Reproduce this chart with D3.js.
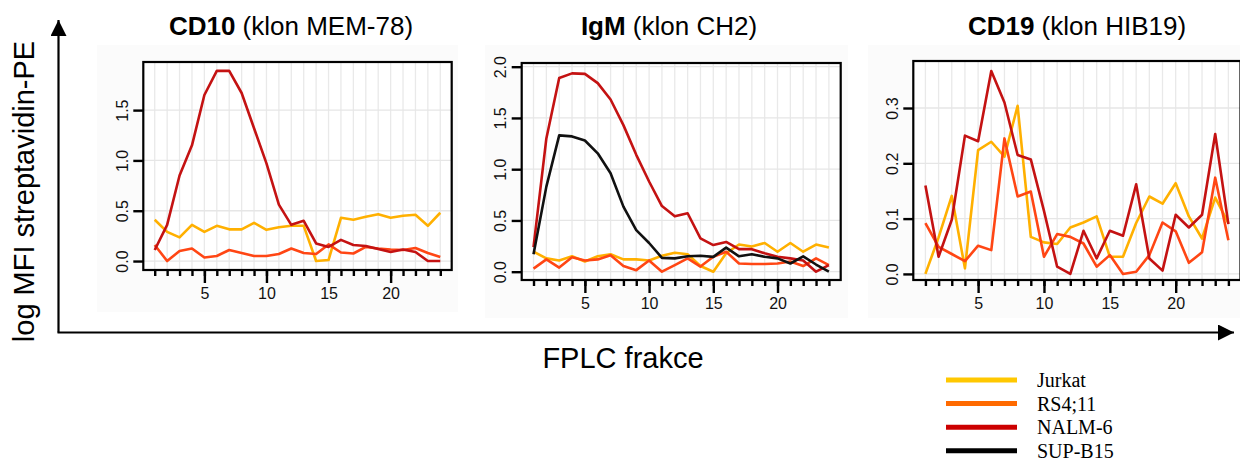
<!DOCTYPE html>
<html><head><meta charset="utf-8">
<script src="https://cdn.jsdelivr.net/npm/d3@7"></script>
<style>body{margin:0;background:#fff}svg{display:block}</style>
</head><body><svg id="c" width="1240" height="461"></svg>
<script>
// ---------- DATA ----------
const fractions = d3.range(1, 25);
const seriesNames = ["Jurkat", "RS4;11", "NALM-6", "SUP-B15"];
const xTickLabels = [5, 10, 15, 20];

const cd10_Jurkat = [0.41,0.29,0.235,0.36,0.29,0.35,0.315,0.315,0.38,0.31,0.335,0.35,0.35,0.0,0.01,0.43,0.41,0.44,0.465,0.43,0.45,0.46,0.35,0.48];
const cd10_RS411  = [0.16,0.0,0.10,0.125,0.035,0.05,0.11,0.08,0.05,0.05,0.07,0.125,0.08,0.07,0.165,0.085,0.075,0.14,0.125,0.115,0.11,0.13,0.08,0.04];
const cd10_NALM6  = [0.11,0.36,0.85,1.15,1.65,1.89,1.89,1.67,1.32,0.97,0.56,0.36,0.40,0.175,0.14,0.21,0.16,0.15,0.12,0.09,0.115,0.09,0.0,0.0];
const cd10_yTicks = [0.0, 0.5, 1.0, 1.5];

const igm_Jurkat = [0.195,0.13,0.11,0.15,0.10,0.15,0.17,0.12,0.12,0.11,0.155,0.185,0.17,0.055,0.0,0.18,0.265,0.245,0.28,0.195,0.28,0.195,0.265,0.235];
const igm_RS411  = [0.03,0.12,0.04,0.14,0.11,0.12,0.16,0.055,0.015,0.11,0.0,0.065,0.13,0.05,0.145,0.195,0.08,0.075,0.075,0.08,0.10,0.055,0.13,0.065];
const igm_NALM6  = [0.24,1.30,1.89,1.935,1.93,1.84,1.68,1.43,1.14,0.88,0.64,0.54,0.57,0.325,0.26,0.29,0.22,0.22,0.18,0.145,0.13,0.11,0.0,0.065];
const igm_SUPB15 = [0.17,0.83,1.33,1.32,1.28,1.155,0.96,0.635,0.405,0.28,0.135,0.13,0.15,0.155,0.145,0.235,0.15,0.17,0.145,0.13,0.08,0.15,0.07,0.0];
const igm_yTicks = [0.0, 0.5, 1.0, 1.5, 2.0];

const cd19_Jurkat = [0.0,0.066,0.141,0.01,0.224,0.239,0.212,0.304,0.067,0.057,0.054,0.084,0.093,0.104,0.031,0.031,0.092,0.14,0.127,0.164,0.104,0.064,0.138,0.092];
const cd19_RS411  = [0.092,0.049,0.036,0.023,0.051,0.043,0.245,0.14,0.149,0.031,0.072,0.067,0.055,0.013,0.034,0.0,0.004,0.034,0.093,0.077,0.020,0.039,0.174,0.061];
const cd19_NALM6  = [0.16,0.031,0.098,0.25,0.24,0.367,0.31,0.215,0.207,0.114,0.013,0.0,0.078,0.028,0.078,0.069,0.162,0.028,0.006,0.107,0.084,0.107,0.253,0.09];
const cd19_yTicks = [0.0, 0.1, 0.2, 0.3];

const titlesBold = ["CD10", "IgM", "CD19"];
const titlesRest = [" (klon MEM-78)", " (klon CH2)", " (klon HIB19)"];
const yAxisTitle = "log MFI streptavidin-PE";
const xAxisTitle = "FPLC frakce";

// ---------- STYLE / LAYOUT ----------
const lineColors = {"Jurkat":"#ffb000","RS4;11":"#ff4614","NALM-6":"#c41212","SUP-B15":"#111111"};
const legendColors = {"Jurkat":"#ffc800","RS4;11":"#ff6a00","NALM-6":"#cc0000","SUP-B15":"#000000"};

const panels = [
  {box:[143.3,62,451.7,270], yDom:[-0.089,1.978], bg:[97,45,458,312], titleX:291,
   yTicks:cd10_yTicks, series:[["Jurkat",cd10_Jurkat],["RS4;11",cd10_RS411],["NALM-6",cd10_NALM6]]},
  {box:[521.7,63,840.7,280], yDom:[-0.081,2.036], bg:[485,45,848,318], titleX:669,
   yTicks:igm_yTicks, series:[["Jurkat",igm_Jurkat],["RS4;11",igm_RS411],["NALM-6",igm_NALM6],["SUP-B15",igm_SUPB15]]},
  {box:[913.3,61,1240.5,280], yDom:[-0.011,0.385], bg:[868,45,1240,318], titleX:1077,
   yTicks:cd19_yTicks, series:[["Jurkat",cd19_Jurkat],["RS4;11",cd19_RS411],["NALM-6",cd19_NALM6]]}
];
const titles = titlesBold.map((b,i)=>({bold:b, rest:titlesRest[i]}));

const svg = d3.select("#c");
const font = "Arial, 'Liberation Sans', sans-serif";

panels.forEach((p, pi) => {
  const [x0,y0,x1,y1] = p.box;
  const g = svg.append("g");
  g.append("rect").attr("x",p.bg[0]).attr("y",p.bg[1]).attr("width",p.bg[2]-p.bg[0]).attr("height",p.bg[3]-p.bg[1]).attr("fill","#fbfbfb");
  g.append("rect").attr("x",x0).attr("y",y0).attr("width",x1-x0).attr("height",y1-y0).attr("fill","#fff");
  const x = d3.scaleLinear().domain([0.08,24.92]).range([x0,x1]);
  const y = d3.scaleLinear().domain(p.yDom).range([y1,y0]);
  // grid
  g.selectAll(".gv").data(fractions).join("line")
    .attr("x1",d=>x(d)).attr("x2",d=>x(d)).attr("y1",y0).attr("y2",y1)
    .attr("stroke","#e9e9e9").attr("stroke-width",1.3);
  g.selectAll(".gh").data(p.yTicks).join("line")
    .attr("x1",x0).attr("x2",x1).attr("y1",d=>y(d)).attr("y2",d=>y(d))
    .attr("stroke","#e6e6e6").attr("stroke-width",1.3);
  // lines
  const line = d3.line().x((d,i)=>x(fractions[i])).y(d=>y(d));
  p.series.forEach(([name, vals]) => {
    g.append("path").datum(vals).attr("d",line).attr("fill","none")
      .attr("stroke",lineColors[name]).attr("stroke-width",2.6).attr("stroke-linejoin","round");
  });
  // frame
  g.append("rect").attr("x",x0).attr("y",y0).attr("width",x1-x0).attr("height",y1-y0)
    .attr("fill","none").attr("stroke","#000").attr("stroke-width",2.2);
  // x axis ticks (minor every fraction, major labelled)
  const xa = g.append("g").attr("transform",`translate(0,${y1})`);
  xa.call(d3.axisBottom(x).tickValues(fractions).tickSize(6).tickFormat(""));
  xa.select(".domain").remove();
  xa.selectAll("line").attr("stroke","#000").attr("stroke-width",2.4);
  const xb = g.append("g").attr("transform",`translate(0,${y1})`);
  xb.call(d3.axisBottom(x).tickValues(xTickLabels).tickSize(13).tickPadding(5).tickFormat(d3.format("d")));
  xb.select(".domain").remove();
  xb.selectAll("line").attr("stroke","#000").attr("stroke-width",2.4);
  xb.selectAll("text").style("font-family",font).style("font-size","16px").attr("fill","#111");
  // y axis
  const ya = g.append("g").attr("transform",`translate(${x0},0)`);
  ya.call(d3.axisLeft(y).tickValues(p.yTicks).tickSize(10).tickFormat(d3.format(".1f")));
  ya.select(".domain").remove();
  ya.selectAll("line").attr("stroke","#000").attr("stroke-width",2.4);
  ya.selectAll("text").style("font-family",font).style("font-size","16px").attr("fill","#111")
    .attr("text-anchor","middle").attr("dy",null).attr("x",0).attr("y",0)
    .attr("transform","translate(-21,0) rotate(-90)").attr("dominant-baseline","central");
  // title
  const t = svg.append("text").attr("x",p.titleX).attr("y",35).attr("text-anchor","middle")
    .attr("font-family",font).attr("font-size",26).attr("fill","#000");
  t.append("tspan").attr("font-weight","bold").text(titles[pi].bold);
  t.append("tspan").text(titles[pi].rest);
});

// big axes with arrows
svg.append("defs").append("marker").attr("id","arr").attr("viewBox","0 0 10 10")
  .attr("refX",10).attr("refY",5).attr("markerWidth",16).attr("markerHeight",16)
  .attr("markerUnits","userSpaceOnUse").attr("orient","auto")
  .append("path").attr("d","M0,0 L10,5 L0,10 Z").attr("fill","#000");
svg.append("line").attr("x1",58.5).attr("y1",332.5).attr("x2",58.5).attr("y2",20)
  .attr("stroke","#000").attr("stroke-width",2.2).attr("marker-end","url(#arr)");
svg.append("line").attr("x1",57.5).attr("y1",332.5).attr("x2",1234).attr("y2",332.5)
  .attr("stroke","#000").attr("stroke-width",2.2).attr("marker-end","url(#arr)");

svg.append("text").attr("transform","translate(34,191.5) rotate(-90)").attr("text-anchor","middle")
  .attr("font-family",font).attr("font-size",29).attr("fill","#000").text(yAxisTitle);
svg.append("text").attr("x",623).attr("y",368).attr("text-anchor","middle")
  .attr("font-family",font).attr("font-size",29).attr("fill","#000").text(xAxisTitle);

// legend
const lg = svg.append("g");
const ly = d3.scalePoint().domain(seriesNames).range([380,450.7]);
seriesNames.forEach(n => {
  lg.append("line").attr("x1",946).attr("x2",1017).attr("y1",ly(n)).attr("y2",ly(n))
    .attr("stroke",legendColors[n]).attr("stroke-width",5);
  lg.append("text").attr("x",1037).attr("y",ly(n)+7).attr("font-family","'Liberation Serif', 'Times New Roman', serif")
    .attr("font-size",20).attr("fill","#000").text(n);
});
</script></body></html>
